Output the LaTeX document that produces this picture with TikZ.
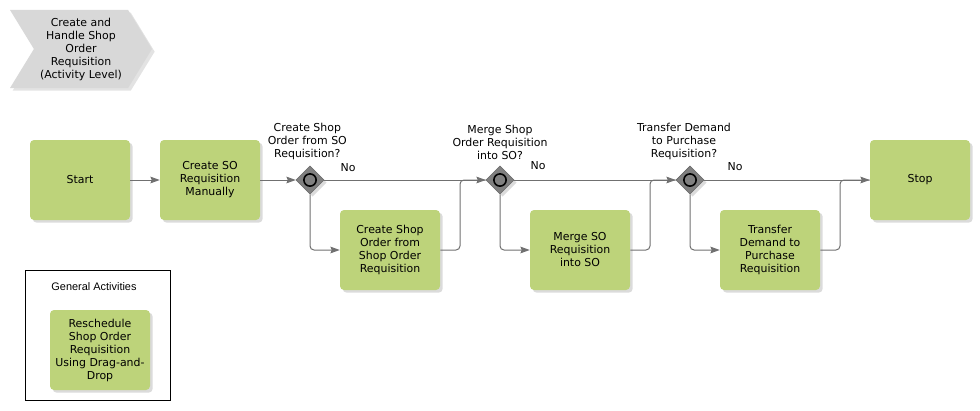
\documentclass[tikz,border=0pt]{standalone}
\usepackage{fontspec}
\setmainfont{DejaVu Sans}
\newfontfamily\arialfont{Liberation Sans}
\usetikzlibrary{positioning, arrows.meta, calc, shapes.geometric, shapes.symbols, shadows}
\definecolor{actcol}{RGB}{189,211,122}
\definecolor{gatecol}{RGB}{128,128,128}
\definecolor{flowcol}{RGB}{112,112,112}
\definecolor{chevcol}{RGB}{216,216,216}
\tikzset{
  boxfont/.style={font=\fontsize{8.2}{9.75}\selectfont},
  activity/.style={rectangle, rounded corners=3pt, fill=actcol, draw=none,
                   minimum width=75pt, minimum height=60pt, inner sep=2pt,
                   align=center, boxfont,
                   drop shadow={shadow xshift=2pt, shadow yshift=-2pt, fill=black!28}},
  gateway/.style={diamond, fill=gatecol, draw=gatecol!80!black, line width=0.4pt,
                  minimum size=21pt, inner sep=0pt,
                  drop shadow={shadow xshift=2pt, shadow yshift=-2pt, fill=black!28},
                  path picture={\draw[draw=black, line width=1.2pt, fill=gatecol]
                                (path picture bounding box.center) circle (4.6pt);}},
  question/.style={align=center, boxfont, inner sep=1pt},
  nolbl/.style={boxfont, inner sep=1pt},
  chevron/.style={signal, signal to=east, signal from=west, signal pointer angle=117,
                  fill=chevcol, draw=none, minimum width=106.5pt, minimum height=58.5pt,
                  inner sep=0pt, align=center, boxfont,
                  drop shadow={shadow xshift=2pt, shadow yshift=-2pt, fill=black!22}},
  genframe/.style={rectangle, draw=black, line width=0.6pt, fill=white,
                   minimum width=108.75pt, minimum height=97.5pt},
  arr/.style={-{Stealth[length=7pt, width=5pt, inset=1pt]}, line width=0.75pt, flowcol},
  flow/.style={line width=0.75pt, flowcol, rounded corners=3pt},
}

\begin{document}
\begin{tikzpicture}[x=0.75pt, y=-0.75pt]
    \useasboundingbox (0,0) rectangle (980,410);

    \node[chevron] (title) at (81,49) {Create and\\Handle Shop\\Order\\Requisition\\(Activity Level)};

    \node[activity] (start) at (80,180) {Start};
    \node[activity] (cso) at (210,180) {Create SO\\Requisition\\Manually};
    \node[gateway] (gw1) at (310,180) {};
    \node[question, above=3.5pt of gw1, xshift=-2pt] {Create Shop\\Order from SO\\Requisition?};
    \node[activity] (csofrom) at (390,250) {Create Shop\\Order from\\Shop Order\\Requisition};
    \node[gateway] (gw2) at (500,180) {};
    \node[question, above=3.5pt of gw2] {Merge Shop\\Order Requisition\\into SO?};
    \node[activity] (mso) at (580,250) {Merge SO\\Requisition\\into SO};
    \node[gateway] (gw3) at (690,180) {};
    \node[question, above=3.5pt of gw3, xshift=-4.5pt] {Transfer Demand\\to Purchase\\Requisition?};
    \node[activity] (tdp) at (770,250) {Transfer\\Demand to\\Purchase\\Requisition};
    \node[activity] (stop) at (920,180) {Stop};

    \coordinate (j1) at (460,180);
    \coordinate (j2) at (650,180);
    \coordinate (j3) at (840,180);

    % main flow
    \draw[arr] (start) -- (cso);
    \draw[arr] (cso) -- (gw1);
    \draw[arr] (gw1) -- (gw2);
    \draw[arr] (gw2) -- (gw3);
    \draw[arr] (gw3) -- (stop);
    \node[nolbl] (no1) at ($(gw1)+(38,-12)$) {No};
    \node[nolbl] (no2) at ($(gw2)+(38,-14)$) {No};
    \node[nolbl] (no3) at ($(gw3)+(45,-13)$) {No};

    % yes branches
    \draw[arr, rounded corners=3pt] (gw1.south) |- (csofrom);
    \draw[arr, rounded corners=3pt] (gw2.south) |- (mso);
    \draw[arr, rounded corners=3pt] (gw3.south) |- (tdp);
    \draw[flow] (csofrom) -| (j1) -- (gw2.west);
    \draw[flow] (mso) -| (j2) -- (gw3.west);
    \draw[flow] (tdp) -| (j3) -- (stop.west);

    % general activities
    \node[genframe] (genact) at (97.5,335) {};
    \node[font=\arialfont\fontsize{8.2}{9.75}\selectfont] (genlbl) at (94,287) {General Activities};
    \node[activity] (resched) at (100,350) {Reschedule\\Shop Order\\Requisition\\Using Drag-and-\\Drop};
\end{tikzpicture}
\end{document}
